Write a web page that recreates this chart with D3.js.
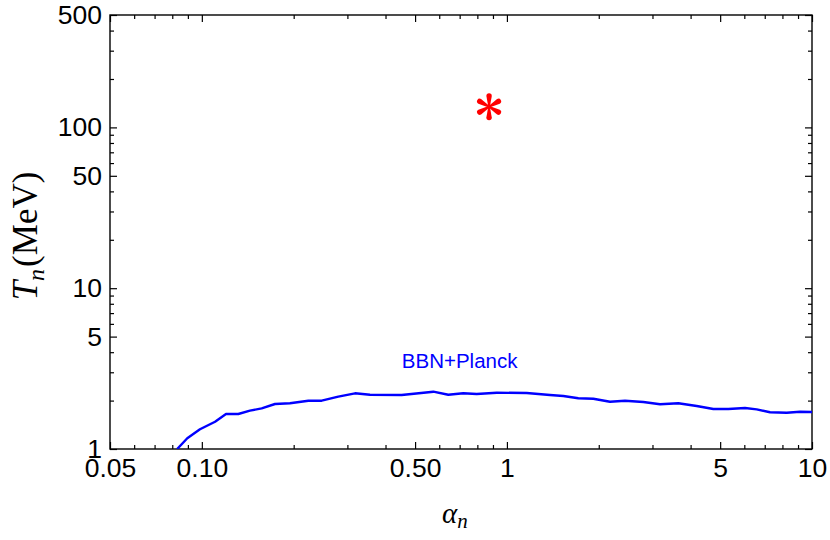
<!DOCTYPE html>
<html>
<head>
<meta charset="utf-8">
<script src="https://cdn.jsdelivr.net/npm/d3@7"></script>
<style>
  body { margin: 0; background: white; }
  .tick text { font-family: "Liberation Sans", Arial, sans-serif; font-size: 26.5px; fill: black; }
</style>
</head>
<body>
<div class="board"></div>
<script>
// BBN+Planck bound
var alphaN = [0.083, 0.0896, 0.0986, 0.1105, 0.120, 0.1317, 0.1438, 0.1571, 0.1737, 0.1945,
    0.2234, 0.2471, 0.2801, 0.3177, 0.3557, 0.4518, 0.5738, 0.6424, 0.7194, 0.796,
    0.926, 1.161, 1.384, 1.531, 1.714, 1.920, 2.177, 2.438, 2.800, 3.176,
    3.646, 4.189, 4.749, 5.317, 6.032, 6.588, 7.285, 8.262, 9.135, 10]
var tempN = [1.0, 1.166, 1.326, 1.478, 1.651, 1.651, 1.731, 1.791, 1.905, 1.924,
    1.997, 1.997, 2.115, 2.220, 2.176, 2.167, 2.272, 2.176, 2.220, 2.198,
    2.239, 2.230, 2.167, 2.136, 2.067, 2.055, 1.968, 1.997, 1.960, 1.897,
    1.924, 1.851, 1.773, 1.773, 1.799, 1.765, 1.692, 1.682, 1.706, 1.698]

// benchmark point
var starAlpha = [0.874]
var starT = [134.5]

var curveLabel = "BBN+Planck"
var labelAlpha = 0.70, labelT = 3.19

var xMajor = [0.05, 0.1, 0.5, 1, 5, 10]
var xMajorLabels = ["0.05", "0.10", "0.50", "1", "5", "10"]
var xMinor = [0.06, 0.07, 0.08, 0.09, 0.2, 0.3, 0.4, 0.6, 0.7, 0.8, 0.9, 2, 3, 4, 6, 7, 8, 9]
var yMajor = [1, 5, 10, 50, 100, 500]
var yMajorLabels = ["1", "5", "10", "50", "100", "500"]
var yMinor = [2, 3, 4, 6, 7, 8, 9, 20, 30, 40, 60, 70, 80, 90, 200, 300, 400]

var W = 830, H = 540
var margin = { top: 15, right: 18, bottom: 91, left: 110 },
    width = W - margin.left - margin.right,
    height = H - margin.top - margin.bottom

var svg = d3.select(".board")
    .append("svg")
    .attr("width", W)
    .attr("height", H)

var g = svg.append("g")
    .attr("transform", `translate(${margin.left}, ${margin.top})`)

let xScale = d3.scaleLog()
    .domain([0.05, 10])
    .range([0, width])

let yScale = d3.scaleLog()
    .domain([1, 500])
    .range([height, 0])

svg.append("defs").append("clipPath")
    .attr("id", "plotclip")
    .append("rect")
    .attr("width", width)
    .attr("height", height)

function frameAxis(axisFn, scale, values, size, labels, pad) {
    let ax = axisFn(scale)
        .tickValues(values)
        .tickSizeInner(-size)
        .tickSizeOuter(0)
        .tickPadding(pad)
    if (labels) {
        ax.tickFormat((d, i) => labels[i])
    } else {
        ax.tickFormat("")
    }
    return ax
}

function appendAxes() {
    // bottom
    g.append("g").attr("transform", `translate(0, ${height})`)
        .call(frameAxis(d3.axisBottom, xScale, xMajor, 7, xMajorLabels, 9))
    g.append("g").attr("transform", `translate(0, ${height})`)
        .call(frameAxis(d3.axisBottom, xScale, xMinor, 4, null, 9))
    // top
    g.append("g").call(frameAxis(d3.axisTop, xScale, xMajor, 7, null, 0))
    g.append("g").call(frameAxis(d3.axisTop, xScale, xMinor, 4, null, 0))
    // left
    g.append("g").call(frameAxis(d3.axisLeft, yScale, yMajor, 7, yMajorLabels, 8))
    g.append("g").call(frameAxis(d3.axisLeft, yScale, yMinor, 4, null, 8))
    // right
    g.append("g").attr("transform", `translate(${width}, 0)`)
        .call(frameAxis(d3.axisRight, yScale, yMajor, 7, null, 0))
    g.append("g").attr("transform", `translate(${width}, 0)`)
        .call(frameAxis(d3.axisRight, yScale, yMinor, 4, null, 0))

    g.selectAll(".domain").remove()
    g.selectAll(".tick line").attr("stroke", "black").attr("stroke-width", 1.2)

    g.append("rect")
        .attr("width", width)
        .attr("height", height)
        .attr("fill", "none")
        .attr("stroke", "black")
        .attr("stroke-width", 1.4)
}

function appendCurve() {
    let pts = alphaN.map((a, i) => [a, tempN[i]])
    g.append("path")
        .datum(pts)
        .attr("clip-path", "url(#plotclip)")
        .attr("fill", "none")
        .attr("stroke", "#0000ff")
        .attr("stroke-width", 2.4)
        .attr("stroke-linejoin", "round")
        .attr("d", d3.line()
            .x(d => xScale(d[0]))
            .y(d => yScale(d[1]))
        )

    g.append("text")
        .attr("x", xScale(labelAlpha))
        .attr("y", yScale(labelT))
        .attr("text-anchor", "middle")
        .attr("fill", "#0000ff")
        .attr("font-family", "Liberation Sans, Arial, sans-serif")
        .attr("font-size", 20.5)
        .text(curveLabel)
}

function appendStar() {
    // six teardrop arms
    let arm = "M-0.8,0 L-2.7,-10.8 A2.7,2.7 0 1 1 2.7,-10.8 L0.8,0 Z"
    let star = g.selectAll(".star")
        .data(starAlpha)
        .enter()
        .append("g")
        .attr("class", "star")
        .attr("transform", (d, i) => `translate(${xScale(d)}, ${yScale(starT[i])})`)
    star.selectAll("path")
        .data(d3.range(0, 360, 60))
        .enter()
        .append("path")
        .attr("d", arm)
        .attr("fill", "#ff0000")
        .attr("transform", d => `rotate(${d})`)
}

function appendTitles() {
    let yt = svg.append("text")
        .attr("transform", "translate(37, 236) rotate(-90)")
        .attr("text-anchor", "middle")
        .attr("font-family", "Liberation Serif, Times New Roman, serif")
        .attr("font-size", 35)
    yt.append("tspan").attr("font-style", "italic").text("T")
    yt.append("tspan").attr("font-style", "italic").attr("font-size", 24).attr("dy", 7).text("n")
    yt.append("tspan").attr("dy", -7).attr("dx", 2).text("(MeV)")

    let xt = svg.append("text")
        .attr("x", 442)
        .attr("y", 523)
        .attr("font-family", "Liberation Serif, Times New Roman, serif")
        .attr("font-size", 29)
    xt.append("tspan").attr("font-style", "italic").text("α")
    xt.append("tspan").attr("font-style", "italic").attr("font-size", 21).attr("dy", 5).text("n")
}

appendAxes()
appendCurve()
appendStar()
appendTitles()
</script>
</body>
</html>
